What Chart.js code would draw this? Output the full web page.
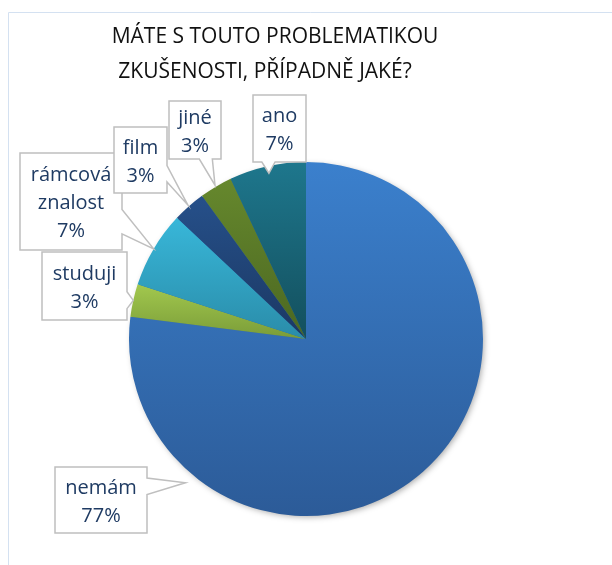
<!DOCTYPE html>
<html>
<head>
<meta charset="utf-8">
<script src="https://cdn.jsdelivr.net/npm/chart.js@4.4.1/dist/chart.umd.min.js"></script>
<style>
  html, body { margin: 0; padding: 0; background: #fff; }
  #wrap { position: relative; width: 612px; height: 565px; }
</style>
</head>
<body>
<div id="wrap"><canvas id="myChart-pie"></canvas></div>
<script>
  // DATA
  const titleLines = ['MÁTE S TOUTO PROBLEMATIKOU', 'ZKUŠENOSTI, PŘÍPADNĚ JAKÉ?'];
  const categories = ['nemám', 'studuji', 'rámcová znalost', 'film', 'jiné', 'ano'];
  const percents = [77, 3, 7, 3, 3, 7];

  // STYLE - gradient colours per slice (top -> bottom)
  const sliceTop = ['#3B80CD', '#A2C84E', '#38B7D9', '#26508A', '#66882D', '#1E778D'];
  const sliceBottom = ['#2C5B98', '#7A9C38', '#2A8CA9', '#1B3863', '#4B6721', '#134F5D'];

  // CALLOUT LAYOUT: box [x, y, w, h], optional tip angle (deg, clockwise from 12 o'clock)
  const callouts = [
    { box: [55, 467, 92, 66], tipAngle: 220, tipR: 1.06 },
    { box: [42, 252, 85, 68], tipR: 1.0 },
    { box: [20, 153, 102, 97], tipR: 1.0 },
    { box: [114, 127, 53, 66], tipR: 1.01 },
    { box: [169, 101, 52, 58], tipR: 1.01 },
    { box: [253, 95, 53, 67], tipR: 0.96 }
  ];

  const PIE_RADIUS = 177;
  const LABEL_FONT = '20px "Open Sans", "Noto Sans", sans-serif';
  const TITLE_FONT = '21px "Open Sans", "Noto Sans", sans-serif';

  // vertical gradient over each slice's own bounding box
  function sliceGradient(context) {
    const chart = context.chart;
    const area = chart.chartArea;
    const i = context.dataIndex;
    if (!area) return sliceBottom[i];
    const cy = (area.top + area.bottom) / 2;
    const r = PIE_RADIUS;
    const total = percents.reduce((a, b) => a + b, 0);
    let start = 0;
    for (let k = 0; k < i; k++) start += percents[k];
    const a1 = start / total * 2 * Math.PI;
    const a2 = (start + percents[i]) / total * 2 * Math.PI;
    const ys = [cy, cy - r * Math.cos(a1), cy - r * Math.cos(a2)];
    if (a1 <= 1e-9 || a2 >= 2 * Math.PI - 1e-9) ys.push(cy - r);
    if (a1 <= Math.PI && a2 >= Math.PI) ys.push(cy + r);
    const top = Math.min(...ys), bottom = Math.max(...ys);
    const g = chart.ctx.createLinearGradient(0, top, 0, bottom);
    g.addColorStop(0, sliceTop[i]);
    g.addColorStop(1, sliceBottom[i]);
    return g;
  }

  // light blue frame of the chart area + title
  const framePlugin = {
    id: 'frame',
    beforeDraw(chart) {
      const ctx = chart.ctx;
      ctx.save();
      ctx.strokeStyle = '#D4E1F1';
      ctx.lineWidth = 1;
      ctx.beginPath();
      ctx.moveTo(8.5, 700);
      ctx.lineTo(8.5, 12.5);
      ctx.lineTo(700, 12.5);
      ctx.stroke();
      ctx.fillStyle = '#111';
      ctx.font = TITLE_FONT;
      ctx.textAlign = 'center';
      ctx.textBaseline = 'alphabetic';
      ctx.fillText(titleLines[0], 275, 43);
      ctx.fillText(titleLines[1], 265, 78);
      ctx.restore();
    }
  };

  // soft shadow under the pie
  const shadowPlugin = {
    id: 'pieShadow',
    beforeDatasetsDraw(chart) {
      const arc = chart.getDatasetMeta(0).data[0];
      if (!arc) return;
      const p = arc.getProps(['x', 'y', 'outerRadius'], true);
      const ctx = chart.ctx;
      ctx.save();
      ctx.shadowColor = 'rgba(0,0,0,0.35)';
      ctx.shadowBlur = 6;
      ctx.shadowOffsetX = 2;
      ctx.shadowOffsetY = 2;
      ctx.fillStyle = '#2F62A3';
      ctx.beginPath();
      ctx.arc(p.x, p.y, p.outerRadius - 1, 0, Math.PI * 2);
      ctx.fill();
      ctx.restore();
    }
  };

  // callout boxes with pointer
  const calloutPlugin = {
    id: 'callouts',
    afterDatasetsDraw(chart) {
      const ctx = chart.ctx;
      const arcs = chart.getDatasetMeta(0).data;
      arcs.forEach((arc, i) => {
        const c = callouts[i];
        const [x, y, w, h] = c.box;
        const p = arc.getProps(['x', 'y', 'startAngle', 'endAngle', 'outerRadius'], true);
        const ang = c.tipAngle !== undefined ? (c.tipAngle - 90) * Math.PI / 180 : (p.startAngle + p.endAngle) / 2;
        const tx = p.x + Math.cos(ang) * p.outerRadius * c.tipR;
        const ty = p.y + Math.sin(ang) * p.outerRadius * c.tipR;
        const bx = x + w / 2, by = y + h / 2;
        const nx = (tx - bx) / (w / 2), ny = (ty - by) / (h / 2);
        let edge = null;
        if (Math.abs(nx) > 1 || Math.abs(ny) > 1) {
          if (Math.abs(nx) > Math.abs(ny)) edge = nx > 0 ? 'right' : 'left';
          else edge = ny > 0 ? 'bottom' : 'top';
        }
        const fx = tx < bx ? [2 / 12, 5 / 12] : [7 / 12, 10 / 12];
        const fy = ty < by ? [2 / 12, 5 / 12] : [7 / 12, 10 / 12];

        ctx.save();
        ctx.beginPath();
        ctx.moveTo(x, y);
        if (edge === 'top') { ctx.lineTo(x + w * fx[0], y); ctx.lineTo(tx, ty); ctx.lineTo(x + w * fx[1], y); }
        ctx.lineTo(x + w, y);
        if (edge === 'right') { ctx.lineTo(x + w, y + h * fy[0]); ctx.lineTo(tx, ty); ctx.lineTo(x + w, y + h * fy[1]); }
        ctx.lineTo(x + w, y + h);
        if (edge === 'bottom') { ctx.lineTo(x + w * fx[1], y + h); ctx.lineTo(tx, ty); ctx.lineTo(x + w * fx[0], y + h); }
        ctx.lineTo(x, y + h);
        if (edge === 'left') { ctx.lineTo(x, y + h * fy[1]); ctx.lineTo(tx, ty); ctx.lineTo(x, y + h * fy[0]); }
        ctx.closePath();
        ctx.fillStyle = '#fff';
        ctx.fill();
        ctx.strokeStyle = '#BFBFBF';
        ctx.lineWidth = 1.5;
        ctx.stroke();

        const lines = categories[i].split(' ').concat([percents[i] + '%']);
        const lh = 28;
        const y0 = by - (lines.length - 1) * lh / 2 + 2;
        ctx.fillStyle = '#1F3B63';
        ctx.font = LABEL_FONT;
        ctx.textAlign = 'center';
        ctx.textBaseline = 'middle';
        lines.forEach((t, k) => ctx.fillText(t, bx, y0 + k * lh));
        ctx.restore();
      });
    }
  };

  function createPieChart() {
    const ctx = document.getElementById('myChart-pie').getContext('2d');
    return new Chart(ctx, {
      type: 'pie',
      data: {
        labels: categories,
        datasets: [{
          data: percents,
          backgroundColor: sliceGradient,
          borderWidth: 0
        }]
      },
      options: {
        responsive: true,
        maintainAspectRatio: false,
        animation: false,
        radius: PIE_RADIUS,
        layout: { padding: { top: 150, bottom: 37, left: 0, right: 0 } },
        plugins: {
          legend: { display: false },
          title: { display: false },
          tooltip: { enabled: false }
        }
      },
      plugins: [framePlugin, shadowPlugin, calloutPlugin]
    });
  }

  createPieChart();
</script>
</body>
</html>
